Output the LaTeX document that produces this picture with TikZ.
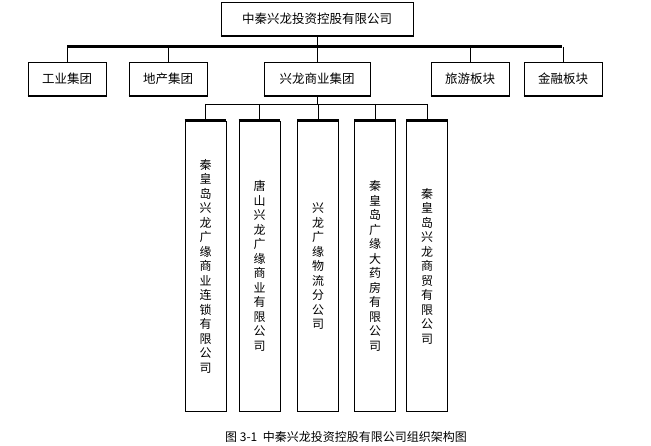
\documentclass[tikz,border=0pt]{standalone}
\usepackage{fontspec}
\setmainfont{Noto Sans CJK SC}
\usetikzlibrary{positioning}
\tikzset{
  orgbox/.style={draw, line width=0.8pt, inner sep=0pt, font=\fontsize{12.5}{14}\selectfont},
  colbox/.style={draw, line width=0.8pt, inner sep=0pt, minimum width=41pt, minimum height=290pt,
    align=center, font=\fontsize{12}{14.5}\selectfont},
  link/.style={line width=0.6pt},
  bar/.style={line width=3pt}
}
\begin{document}
\begin{tikzpicture}[x=1pt,y=-1pt]
\useasboundingbox (0,0) rectangle (651,446);
% 总公司
\node[orgbox, minimum width=192pt, minimum height=34pt] (top) at (317,19) {中秦兴龙投资控股有限公司};
\draw[line width=2pt] (top.south west) -- (top.south east);

% 第二层
\coordinate (barL) at (67,47);
\coordinate (barR) at (562,47);
\draw[bar] (barL) -- (barR);
\draw[link] (top.south) -- (317,47);
\foreach \name/\x/\w/\txt in {ind/67/78/工业集团, est/168/78/地产集团, com/317/106/兴龙商业集团, tour/470/78/旅游板块, fin/563/78/金融板块}{
  \node[orgbox, minimum width=\w pt, minimum height=34pt] (\name) at (\x,79) {\txt};
  \draw[line width=2pt] (\name.south west) -- (\name.south east);
  \draw[link] (\x,47) -- (\name.north);
}

% 第三层
\draw[link] (com.south) -- (317,104);
\coordinate (subL) at (205,104);
\coordinate (subR) at (427,104);
\draw[link] (subL) -- (subR);
\node[colbox] (c1) at (205.5,266) {秦\\皇\\岛\\兴\\龙\\广\\缘\\商\\业\\连\\锁\\有\\限\\公\\司};
\node[colbox] (c2) at (259.5,266) {唐\\山\\兴\\龙\\广\\缘\\商\\业\\有\\限\\公\\司};
\node[colbox] (c3) at (318,266) {兴\\龙\\广\\缘\\物\\流\\分\\公\\司};
\node[colbox] (c4) at (375,266) {秦\\皇\\岛\\广\\缘\\大\\药\\房\\有\\限\\公\\司};
\node[colbox] (c5) at (427,266) {秦\\皇\\岛\\兴\\龙\\商\\贸\\有\\限\\公\\司};
\foreach \c in {c1,c2,c3,c4,c5}{
  \draw[line width=2.4pt] (\c.north west) -- (\c.north east);
  \draw[link] (\c.north |- subL) -- (\c.north);
}

% 图题
\node[font=\fontsize{12}{14}\selectfont] (cap) at (346,437) {图 3-1\ \ 中秦兴龙投资控股有限公司组织架构图};
\end{tikzpicture}
\end{document}
